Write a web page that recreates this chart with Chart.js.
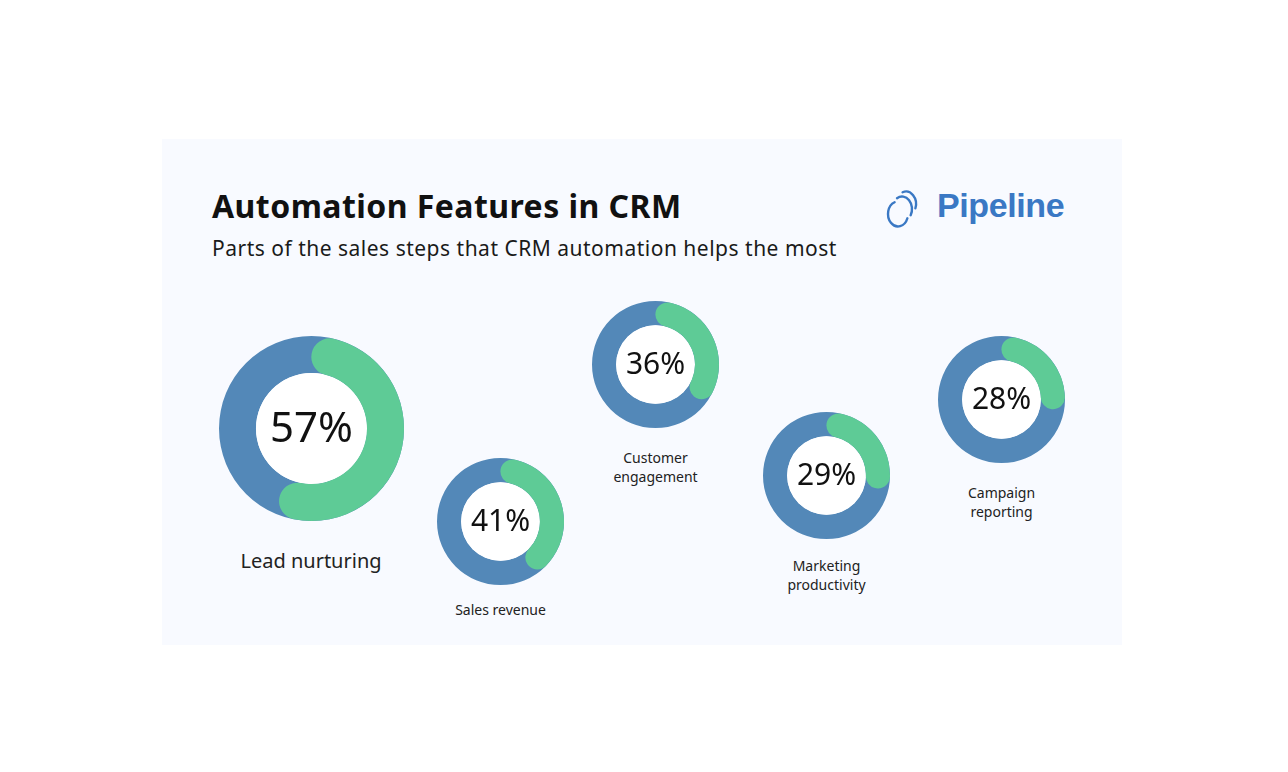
<!DOCTYPE html>
<html>
<head>
<meta charset="utf-8">
<script src="https://cdn.jsdelivr.net/npm/chart.js@4.4.1/dist/chart.umd.min.js"></script>
<style>
  html, body { margin: 0; padding: 0; background: #ffffff; width: 1288px; height: 772px; overflow: hidden; }
  #panel { position: absolute; left: 162px; top: 139px; width: 960px; height: 506px; background: #f8faff; }
  .abs { position: absolute; }
  #title { left: 212px; top: 184px; font-family: "Noto Sans", sans-serif; font-weight: 700; font-size: 32px; color: #111; white-space: nowrap; letter-spacing: 0.45px; }
  #subtitle { left: 212px; top: 234px; font-family: "Noto Sans", sans-serif; font-size: 21px; color: #1a1a1a; white-space: nowrap; letter-spacing: 0.5px; }
  #logoText { left: 937px; top: 186px; font-family: "Liberation Sans", Arial, sans-serif; font-weight: 700; font-size: 34px; color: #3a78c4; letter-spacing: -0.4px; white-space: nowrap; }
  .label { position: absolute; font-family: "Noto Sans", sans-serif; color: #222; text-align: center; white-space: nowrap; transform: translateX(-50%); line-height: 19px; }
  .box { position: absolute; }
</style>
</head>
<body>
<div id="panel"></div>
<div id="title" class="abs">Automation Features in CRM</div>
<div id="subtitle" class="abs">Parts of the sales steps that CRM automation helps the most</div>
<svg class="abs" style="left:884px;top:186px" width="40" height="46" viewBox="0 0 40 46">
  <g fill="none" stroke="#3a78c4" stroke-width="2.4" stroke-linecap="round">
    <path d="M10.58 16.25 A10 12.5 0 1 0 23.4 32.28"/>
    <path d="M13 12.17 A10 12.5 0 0 1 26.66 29.25"/>
    <path d="M18.58 6.25 A10 12.5 0 0 1 31.4 22.28"/>
  </g>
</svg>
<div id="logoText" class="abs">Pipeline</div>
<div id="charts"></div>
<script>
// ---- data ----
const categories = ["Lead nurturing", "Sales revenue", "Customer engagement", "Marketing productivity", "Campaign reporting"];
const labelLines = [["Lead nurturing"], ["Sales revenue"], ["Customer", "engagement"], ["Marketing", "productivity"], ["Campaign", "reporting"]];
const values = [57, 41, 36, 29, 28];
const valueLabels = ["57%", "41%", "36%", "29%", "28%"];

// ---- layout (positions / sizes) ----
const layout = [
  { cx: 311, cy: 428, r: 92.5, cutout: "60%", font: 42, labelTop: 548, labelSize: 20 },
  { cx: 500.5, cy: 521.5, r: 63.5, cutout: "62%", font: 30, labelTop: 600, labelSize: 14 },
  { cx: 655.5, cy: 364, r: 63.5, cutout: "62%", font: 30, labelTop: 448, labelSize: 14 },
  { cx: 826.5, cy: 475.5, r: 63.5, cutout: "62%", font: 30, labelTop: 556, labelSize: 14 },
  { cx: 1001.5, cy: 399.5, r: 63.5, cutout: "62%", font: 30, labelTop: 483, labelSize: 14 }
];
const GREEN = "#5ecb96";
const BLUE = "#5388b8";

const ringPlugin = {
  id: "ring",
  beforeDatasetsDraw(chart) {
    const arc = chart.getDatasetMeta(0).data[0];
    if (!arc) return;
    const { x, y, innerRadius, outerRadius } = arc.getProps(["x", "y", "innerRadius", "outerRadius"], true);
    const ctx = chart.ctx;
    ctx.save();
    ctx.beginPath();
    ctx.arc(x, y, outerRadius, 0, Math.PI * 2);
    ctx.arc(x, y, innerRadius, Math.PI * 2, 0, true);
    ctx.closePath();
    ctx.fillStyle = BLUE;
    ctx.fill();
    ctx.beginPath();
    ctx.arc(x, y, innerRadius, 0, Math.PI * 2);
    ctx.fillStyle = "#ffffff";
    ctx.fill();
    ctx.restore();
  },
  afterDatasetsDraw(chart, args, opts) {
    const arc = chart.getDatasetMeta(0).data[0];
    const { x, y } = arc.getProps(["x", "y"], true);
    const ctx = chart.ctx;
    ctx.save();
    ctx.font = `400 ${opts.size}px "Noto Sans", sans-serif`;
    ctx.fillStyle = "#111";
    ctx.textAlign = "center";
    ctx.textBaseline = "middle";
    ctx.fillText(opts.text, x, y + opts.size * 0.03);
    ctx.restore();
  }
};

const host = document.getElementById("charts");
categories.forEach((cat, i) => {
  const L = layout[i];
  const size = Math.round(L.r * 2);
  const box = document.createElement("div");
  box.className = "box";
  box.style.left = (L.cx - size / 2) + "px";
  box.style.top = (L.cy - size / 2) + "px";
  box.style.width = size + "px";
  box.style.height = size + "px";
  const cv = document.createElement("canvas");
  box.appendChild(cv);
  host.appendChild(box);

  new Chart(cv, {
    type: "doughnut",
    data: {
      labels: [cat, "Other"],
      datasets: [{
        data: [values[i], 100 - values[i]],
        backgroundColor: [GREEN, "rgba(0,0,0,0)"],
        borderWidth: 0,
        borderRadius: [200, 0]
      }]
    },
    options: {
      responsive: true,
      maintainAspectRatio: false,
      animation: false,
      cutout: L.cutout,
      layout: { padding: 0 },
      plugins: {
        legend: { display: false },
        tooltip: { enabled: false },
        ring: { text: valueLabels[i], size: L.font }
      }
    },
    plugins: [ringPlugin]
  });

  const lab = document.createElement("div");
  lab.className = "label";
  lab.style.left = L.cx + "px";
  lab.style.top = L.labelTop + "px";
  lab.style.fontSize = L.labelSize + "px";
  lab.style.lineHeight = (i === 0 ? 26 : 19) + "px";
  lab.innerHTML = labelLines[i].join("<br>");
  host.appendChild(lab);
});
</script>
</body>
</html>
